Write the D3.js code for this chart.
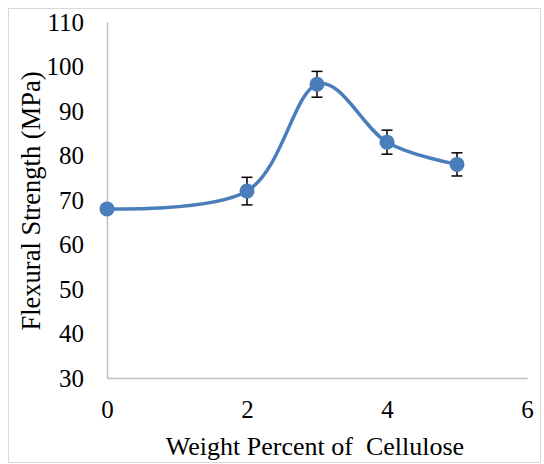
<!DOCTYPE html>
<html><head><meta charset="utf-8">
<script src="https://cdn.jsdelivr.net/npm/d3@7"></script>
<style>body{margin:0;background:#fff}svg{display:block}</style>
</head><body>
<svg id="c" width="544" height="464"></svg>
<script>
const xValues = [0, 2, 3, 4, 5];
const yValues = [68, 72, 96, 83, 78];
const errValues = [0, 3.1, 2.9, 2.7, 2.6];
const xTicks = [0, 2, 4, 6];
const yTicks = [30, 40, 50, 60, 70, 80, 90, 100, 110];
const xTitle = "Weight Percent of  Cellulose";
const yTitle = "Flexural Strength (MPa)";

const svg = d3.select("#c");
const font = "'Liberation Serif','Times New Roman',serif";
svg.append("rect").attr("x",8.5).attr("y",8.5).attr("width",532).attr("height",454)
  .attr("fill","#fff").attr("stroke","#d9d9d9").attr("stroke-width",1);

const x = d3.scaleLinear().domain([0,6]).range([107,527]);
const y = d3.scaleLinear().domain([30,110]).range([378,22]);

const xAxis = svg.append("g").attr("transform",`translate(0,${y(30)})`)
  .call(d3.axisBottom(x).tickValues(xTicks).tickFormat(d3.format("d")).tickSize(0).tickPadding(22));
const yAxis = svg.append("g").attr("transform",`translate(${x(0)},0)`)
  .call(d3.axisLeft(y).tickValues(yTicks).tickFormat(d3.format("d")).tickSize(0).tickPadding(23));
[xAxis,yAxis].forEach(g=>{
  g.attr("font-family",font).attr("font-size",25);
  g.select(".domain").attr("stroke","#bfbfbf").attr("stroke-width",1.5);
  g.selectAll("text").attr("font-family",font).attr("font-size",25).attr("fill","#000");
});

const data = xValues.map((v,i)=>({x:v,y:yValues[i],e:errValues[i]}));
const line = d3.line().x(d=>x(d.x)).y(d=>y(d.y)).curve(d3.curveCatmullRom.alpha(0));
svg.append("path").datum(data).attr("d",line).attr("fill","none")
  .attr("stroke","#4a7ebb").attr("stroke-width",3.5);

const eb = svg.append("g").attr("stroke","#000").attr("stroke-width",1.5);
data.filter(d=>d.e>0).forEach(d=>{
  eb.append("line").attr("x1",x(d.x)).attr("x2",x(d.x)).attr("y1",y(d.y+d.e)).attr("y2",y(d.y-d.e));
  eb.append("line").attr("x1",x(d.x)-5.5).attr("x2",x(d.x)+5.5).attr("y1",y(d.y+d.e)).attr("y2",y(d.y+d.e));
  eb.append("line").attr("x1",x(d.x)-5.5).attr("x2",x(d.x)+5.5).attr("y1",y(d.y-d.e)).attr("y2",y(d.y-d.e));
});

svg.append("g").selectAll("circle").data(data).join("circle")
  .attr("cx",d=>x(d.x)).attr("cy",d=>y(d.y)).attr("r",7.5).attr("fill","#4a7ebb");

svg.append("text").attr("x",315).attr("y",455).attr("text-anchor","middle")
  .style("white-space","pre").attr("xml:space","preserve")
  .attr("font-family",font).attr("font-size",26).text(xTitle);
svg.append("text").attr("transform",`translate(40,201) rotate(-90)`)
  .attr("text-anchor","middle").attr("font-family",font).attr("font-size",26.5).text(yTitle);
</script>
</body></html>
